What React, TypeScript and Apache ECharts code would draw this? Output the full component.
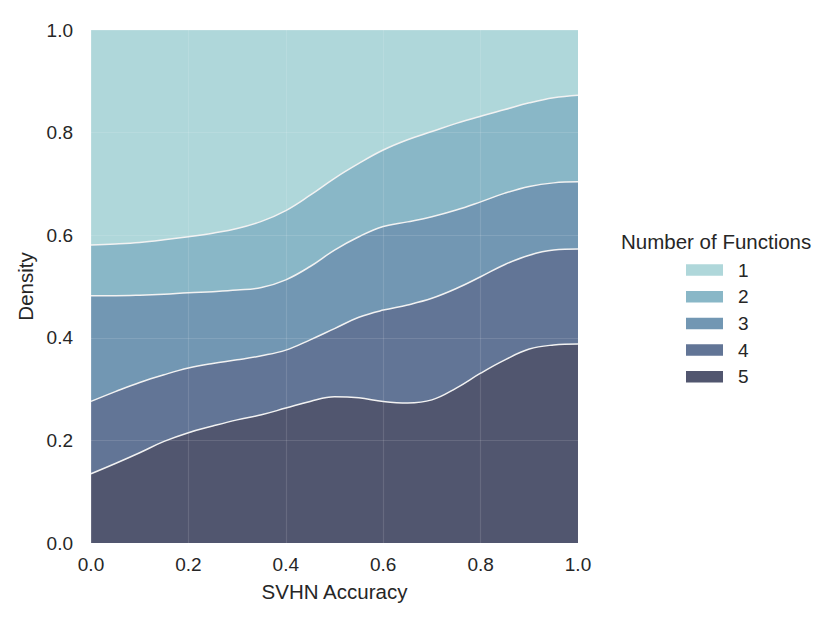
import React, { useEffect, useRef } from "react";
import * as echarts from "echarts";

const xValues = [0, 0.05, 0.1, 0.15, 0.2, 0.25, 0.3, 0.35, 0.4, 0.45, 0.5, 0.55, 0.6, 0.65, 0.7, 0.75, 0.8, 0.85, 0.9, 0.95, 1.0];

// Share of density per number of functions (stacked, fill style)
const layer1 = [0.419, 0.417, 0.414, 0.409, 0.403, 0.396, 0.387, 0.373, 0.352, 0.322, 0.289, 0.26, 0.234, 0.214, 0.198, 0.182, 0.168, 0.155, 0.142, 0.132, 0.127];
const layer2 = [0.099, 0.101, 0.103, 0.106, 0.109, 0.114, 0.12, 0.129, 0.135, 0.139, 0.14, 0.143, 0.149, 0.16, 0.166, 0.169, 0.167, 0.163, 0.163, 0.166, 0.169];
const layer3 = [0.206, 0.187, 0.17, 0.157, 0.147, 0.14, 0.136, 0.133, 0.137, 0.143, 0.153, 0.157, 0.163, 0.162, 0.159, 0.153, 0.146, 0.139, 0.134, 0.131, 0.131];
const layer4 = [0.141, 0.14, 0.137, 0.13, 0.126, 0.122, 0.117, 0.115, 0.113, 0.12, 0.133, 0.157, 0.178, 0.191, 0.198, 0.194, 0.188, 0.186, 0.183, 0.185, 0.185];
const layer5 = [0.135, 0.155, 0.176, 0.198, 0.215, 0.228, 0.24, 0.25, 0.263, 0.276, 0.285, 0.283, 0.276, 0.273, 0.279, 0.302, 0.331, 0.357, 0.378, 0.386, 0.388];

const layerNames = ["1", "2", "3", "4", "5"];
const layers = [layer1, layer2, layer3, layer4, layer5];
const colors = ["#afd7da", "#89b7c7", "#7297b3", "#627596", "#51566f"];

const xTicks = [0, 0.2, 0.4, 0.6, 0.8, 1.0];

export default function App() {
  const ref = useRef<HTMLDivElement>(null);
  useEffect(() => {
    document.body.style.margin = "0";
    if (!ref.current) return;
    const chart = echarts.init(ref.current, null, { renderer: "svg" });
    const font = "Liberation Sans, Arial, sans-serif";

    // cumulative top of each layer (layer 5 at the bottom)
    const series = layers.map((_, i) => {
      const data = xValues.map((x, j) => {
        let s = 0;
        for (let k = i; k < layers.length; k++) s += layers[k][j];
        return [x, Math.min(1, s)];
      });
      return {
        name: layerNames[i],
        type: "line",
        data,
        smooth: 0.4,
        symbol: "none",
        z: 2 + i,
        lineStyle: { color: i === 0 ? "transparent" : "#f2f2f2", width: i === 0 ? 0 : 1.5 },
        itemStyle: { color: colors[i] },
        areaStyle: { color: colors[i], opacity: 1, origin: "start" },
      };
    });

    chart.setOption({
      animation: false,
      backgroundColor: "#ffffff",
      textStyle: { fontFamily: font },
      grid: { left: 91, top: 30, width: 487, height: 513, containLabel: false },
      xAxis: {
        type: "value",
        min: 0,
        max: 1,
        interval: 0.2,
        z: 20,
        name: "SVHN Accuracy",
        nameLocation: "middle",
        nameGap: 38,
        nameTextStyle: { fontSize: 20.5, color: "#262626", fontFamily: font },
        axisLine: { show: false },
        axisTick: { show: false },
        axisLabel: {
          fontSize: 19,
          color: "#262626",
          margin: 12,
          fontFamily: font,
          formatter: (v: number) => (xTicks.some((t) => Math.abs(t - v) < 1e-9) ? v.toFixed(1) : ""),
        },
        splitLine: { show: true, lineStyle: { color: "rgba(255,255,255,0.12)", width: 1.2 } },
      },
      yAxis: {
        type: "value",
        min: 0,
        max: 1,
        interval: 0.2,
        z: 20,
        name: "Density",
        nameLocation: "middle",
        nameGap: 50,
        nameTextStyle: { fontSize: 20.5, color: "#262626", fontFamily: font },
        axisLine: { show: false },
        axisTick: { show: false },
        axisLabel: {
          fontSize: 19,
          color: "#262626",
          margin: 18,
          fontFamily: font,
          formatter: (v: number) => v.toFixed(1),
        },
        splitLine: { show: true, lineStyle: { color: "rgba(255,255,255,0.12)", width: 1.2 } },
      },
      legend: {
        orient: "vertical",
        left: 686,
        top: 260.5,
        padding: 0,
        itemWidth: 37,
        itemHeight: 11.5,
        itemGap: 7.7,
        icon: "rect",
        data: layerNames,
        textStyle: { fontSize: 19, color: "#262626", fontFamily: font, padding: [0, 0, 0, 10] },
      },
      graphic: [
        {
          type: "text",
          left: 621,
          top: 231,
          style: { text: "Number of Functions", fontSize: 20.5, fill: "#262626", fontFamily: font },
        },
      ],
      series,
    });
    return () => chart.dispose();
  }, []);
  return <div ref={ref} style={{ width: 831, height: 623 }} />;
}
